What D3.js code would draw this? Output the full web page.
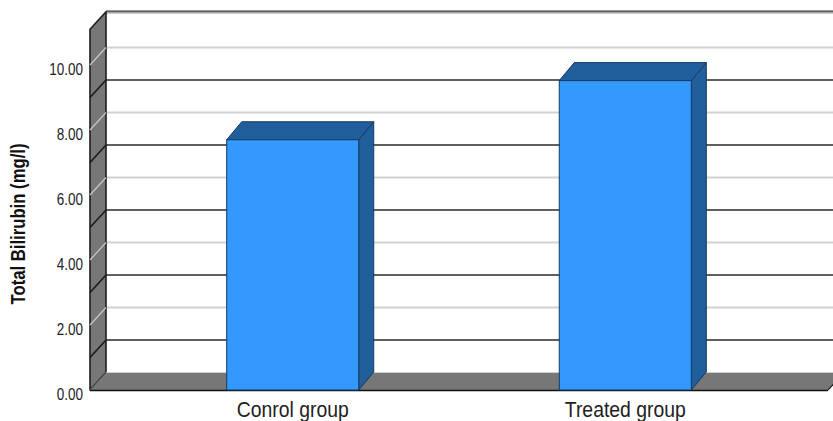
<!DOCTYPE html>
<html>
<head>
<meta charset="utf-8">
<script src="https://cdn.jsdelivr.net/npm/d3@7"></script>
<style>
  html, body { margin: 0; padding: 0; background: #ffffff; }
  svg { display: block; }
</style>
</head>
<body>
<svg id="chart" width="833" height="421"></svg>
<script>
// Mean total bilirubin per group
const categories = ["Conrol group", "Treated group"];
const values = [7.70, 9.52];
const tickValues = [0, 2, 4, 6, 8, 10];
const gridValues = [1, 2, 3, 4, 5, 6, 7, 8, 9, 10];
const yMax = 11.1;
const yTitle = "Total Bilirubin (mg/l)";

const W = 833, H = 421;
const svg = d3.select("#chart");
svg.append("rect").attr("width", W).attr("height", H).attr("fill", "#fff");

// Front plane geometry and depth offset of the box
const left = 90, right = 828, base = 390;
const dx = 16, dy = 17.5;       // wall/floor depth
const bdx = 15, bdy = 18;       // bar depth

const y = d3.scaleLinear().domain([0, yMax]).range([base, base - yMax * 32.5]);
const x = d3.scaleBand().domain(categories).range([left, right])
  .paddingInner(0.603).paddingOuter(0.411);

const pts = a => a.map(p => p.join(",")).join(" ");
const backRight = W + 10;
const font = "Liberation Sans, Arial, sans-serif";

// Back wall gridlines (dark on odd values, light on even values)
const g = svg.append("g");
gridValues.forEach(v => {
  const odd = v % 2 === 1;
  g.append("line")
    .attr("x1", left + dx).attr("x2", backRight)
    .attr("y1", y(v) - dy).attr("y2", y(v) - dy)
    .attr("stroke", odd ? "#2a2a2a" : "#d2d2d2")
    .attr("stroke-width", odd ? 1.4 : 2);
});

// Top edge of the back wall
[[-1.2, "#9a9a9a"], [0, "#333"], [1.2, "#9a9a9a"]].forEach(([o, c]) => {
  g.append("line")
    .attr("x1", left + dx).attr("x2", backRight)
    .attr("y1", y(yMax) - dy + o).attr("y2", y(yMax) - dy + o)
    .attr("stroke", c).attr("stroke-width", 1.2);
});

// Left wall
g.append("polygon")
  .attr("points", pts([[left, y(0)], [left, y(yMax)], [left + dx, y(yMax) - dy], [left + dx, y(0) - dy]]))
  .attr("fill", "#777").attr("stroke", "#1e1e1e").attr("stroke-width", 1.6)
  .attr("stroke-linejoin", "round");

gridValues.forEach(v => {
  const odd = v % 2 === 1;
  g.append("line")
    .attr("x1", left).attr("y1", y(v))
    .attr("x2", left + dx).attr("y2", y(v) - dy)
    .attr("stroke", odd ? "#1a1a1a" : "#c8c8c8")
    .attr("stroke-width", odd ? 1.6 : 1.2);
});

// Floor
g.append("polygon")
  .attr("points", pts([[left, y(0)], [left + dx, y(0) - dy], [backRight, y(0) - dy], [right, y(0)]]))
  .attr("fill", "#777");
g.append("line")
  .attr("x1", left + dx).attr("x2", backRight)
  .attr("y1", y(0) - dy).attr("y2", y(0) - dy)
  .attr("stroke", "#cfcfcf").attr("stroke-width", 1.2);
g.append("line")
  .attr("x1", right).attr("y1", y(0))
  .attr("x2", right + dx).attr("y2", y(0) - dy)
  .attr("stroke", "#222").attr("stroke-width", 1.2);
g.append("line")
  .attr("x1", left).attr("x2", right)
  .attr("y1", y(0) + 0.5).attr("y2", y(0) + 0.5)
  .attr("stroke", "#111").attr("stroke-width", 1.6);
g.append("line")
  .attr("x1", left).attr("y1", y(0))
  .attr("x2", left + dx).attr("y2", y(0) - dy)
  .attr("stroke", "#555").attr("stroke-width", 1);

// Bars: front face, top face and right side
const bars = svg.append("g").selectAll("g").data(categories).join("g");
const bw = x.bandwidth();
const edge = "#173a60";

bars.append("polygon")
  .attr("points", (d, i) => {
    const x0 = x(d) + bw, yt = y(values[i]);
    return pts([[x0, yt], [x0 + bdx, yt - bdy], [x0 + bdx, y(0) - bdy], [x0, y(0)]]);
  })
  .attr("fill", "#215e9c").attr("stroke", edge).attr("stroke-width", 1);

bars.append("polygon")
  .attr("points", (d, i) => {
    const x0 = x(d), yt = y(values[i]);
    return pts([[x0, yt], [x0 + bdx, yt - bdy], [x0 + bw + bdx, yt - bdy], [x0 + bw, yt]]);
  })
  .attr("fill", "#215e9c").attr("stroke", edge).attr("stroke-width", 1);

bars.append("rect")
  .attr("x", d => x(d))
  .attr("y", (d, i) => y(values[i]))
  .attr("width", bw)
  .attr("height", (d, i) => y(0) - y(values[i]))
  .attr("fill", "#3399ff").attr("stroke", edge).attr("stroke-width", 1);

// Value axis labels (glyphs slightly taller than wide)
const yAxis = d3.axisLeft(y).tickValues(tickValues).tickFormat(d3.format(".2f")).tickSize(0).tickPadding(7);
const ya = svg.append("g").attr("transform", `translate(${left},0)`).call(yAxis);
ya.select(".domain").remove();
ya.selectAll("text")
  .attr("font-family", font)
  .attr("font-size", 13.5)
  .attr("fill", "#222")
  .attr("y", 0)
  .attr("dy", null)
  .attr("transform", "translate(0,9) scale(1,1.2)");

// Category labels
svg.append("g").selectAll("text").data(categories).join("text")
  .attr("transform", d => `translate(${x(d) + bw / 2},416.5) scale(1,1.12)`)
  .attr("text-anchor", "middle")
  .attr("font-family", font)
  .attr("font-size", 19.4)
  .attr("fill", "#222")
  .text(d => d);

// Value axis title
svg.append("text")
  .attr("transform", `translate(25, 224) rotate(-90) scale(1,1.2)`)
  .attr("text-anchor", "middle")
  .attr("font-family", font)
  .attr("font-weight", "bold")
  .attr("font-size", 16.7)
  .attr("fill", "#111")
  .text(yTitle);
</script>
</body>
</html>
